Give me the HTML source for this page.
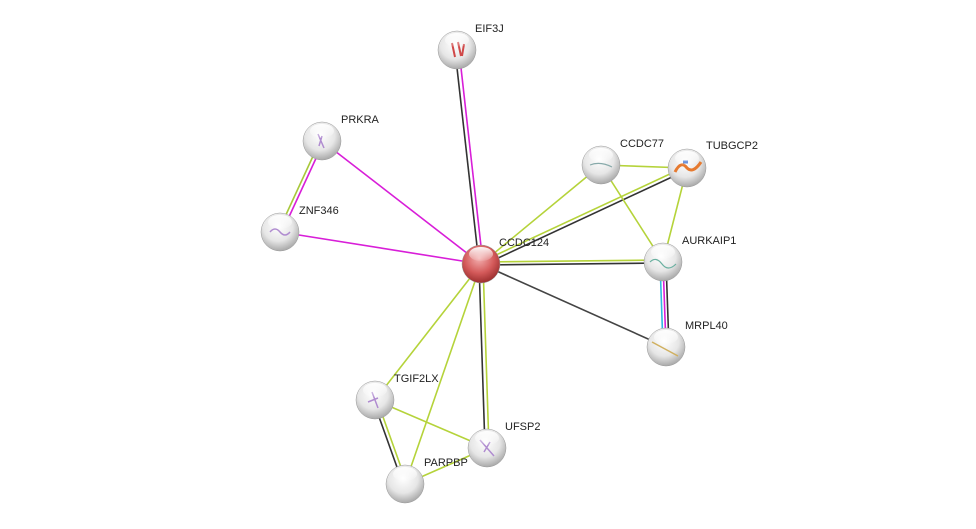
<!DOCTYPE html>
<html><head><meta charset="utf-8"><style>
html,body{margin:0;padding:0;background:#fff;width:976px;height:529px;overflow:hidden}
text{font-family:"Liberation Sans",sans-serif;font-size:11px;fill:#222}
</style></head><body>
<svg width="976" height="529" viewBox="0 0 976 529" xmlns="http://www.w3.org/2000/svg">
<defs>
<radialGradient id="g" cx="45%" cy="35%" r="65%">
<stop offset="0" stop-color="#ffffff"/><stop offset="0.6" stop-color="#e6e6e6"/><stop offset="1" stop-color="#a9a9a9"/>
</radialGradient>
<radialGradient id="r" cx="45%" cy="35%" r="65%">
<stop offset="0" stop-color="#f3b0b0"/><stop offset="0.6" stop-color="#d45a5a"/><stop offset="1" stop-color="#9c2f2f"/>
</radialGradient>
<linearGradient id="h" x1="0" y1="0" x2="0" y2="1">
<stop offset="0" stop-color="#fff" stop-opacity="0.95"/><stop offset="1" stop-color="#fff" stop-opacity="0.1"/>
</linearGradient>
</defs>
<g stroke-width="1.6" fill="none">
<line x1="479" y1="264" x2="455" y2="50" stroke="#333"/>
<line x1="483" y1="264" x2="459" y2="50" stroke="#d81ed8"/>
<line x1="481" y1="264" x2="322" y2="141" stroke="#d81ed8"/>
<line x1="481" y1="264" x2="280" y2="232" stroke="#d81ed8"/>
<line x1="320" y1="141" x2="278" y2="232" stroke="#a8c83a"/>
<line x1="324" y1="141" x2="282" y2="232" stroke="#d81ed8"/>
<line x1="481" y1="264" x2="601" y2="165" stroke="#b5d33a"/>
<line x1="481" y1="262" x2="687" y2="166" stroke="#b5d33a"/>
<line x1="481" y1="266" x2="687" y2="170" stroke="#333"/>
<line x1="481" y1="262" x2="663" y2="260" stroke="#b5d33a"/>
<line x1="481" y1="265" x2="663" y2="263" stroke="#333"/>
<line x1="481" y1="264" x2="666" y2="347" stroke="#444"/>
<line x1="481" y1="264" x2="375" y2="400" stroke="#b5d33a"/>
<line x1="481" y1="264" x2="405" y2="484" stroke="#b5d33a"/>
<line x1="479" y1="264" x2="485" y2="448" stroke="#333"/>
<line x1="483" y1="264" x2="489" y2="448" stroke="#b5d33a"/>
<line x1="601" y1="165" x2="687" y2="168" stroke="#b5d33a"/>
<line x1="601" y1="165" x2="663" y2="262" stroke="#b5d33a"/>
<line x1="687" y1="168" x2="663" y2="262" stroke="#b5d33a"/>
<line x1="660" y1="262" x2="663" y2="347" stroke="#30b8e0"/>
<line x1="663" y1="262" x2="666" y2="347" stroke="#d81ed8"/>
<line x1="666" y1="262" x2="669" y2="347" stroke="#333"/>
<line x1="375" y1="400" x2="487" y2="448" stroke="#b5d33a"/>
<line x1="373" y1="400" x2="403" y2="484" stroke="#333"/>
<line x1="377" y1="400" x2="407" y2="484" stroke="#b5d33a"/>
<line x1="405" y1="484" x2="487" y2="448" stroke="#b5d33a"/>
</g>
<g>
<circle cx="457" cy="50" r="19" fill="url(#g)" stroke="#999" stroke-width="0.5"/>
<circle cx="322" cy="141" r="19" fill="url(#g)" stroke="#999" stroke-width="0.5"/>
<circle cx="280" cy="232" r="19" fill="url(#g)" stroke="#999" stroke-width="0.5"/>
<circle cx="601" cy="165" r="19" fill="url(#g)" stroke="#999" stroke-width="0.5"/>
<circle cx="687" cy="168" r="19" fill="url(#g)" stroke="#999" stroke-width="0.5"/>
<circle cx="663" cy="262" r="19" fill="url(#g)" stroke="#999" stroke-width="0.5"/>
<circle cx="666" cy="347" r="19" fill="url(#g)" stroke="#999" stroke-width="0.5"/>
<circle cx="375" cy="400" r="19" fill="url(#g)" stroke="#999" stroke-width="0.5"/>
<circle cx="487" cy="448" r="19" fill="url(#g)" stroke="#999" stroke-width="0.5"/>
<circle cx="405" cy="484" r="19" fill="url(#g)" stroke="#999" stroke-width="0.5"/>
<circle cx="481" cy="264" r="19" fill="url(#r)" stroke="#999" stroke-width="0.5"/>
<path d="M452 43 l3 14 M458 42 l3 14 M464 44 l-2 12" stroke="#d04848" stroke-width="2"/>
<path d="M318 134 l6 14 M322 136 l-3 10" stroke="#b08cd0" stroke-width="1.5"/>
<path d="M270 232 q5 -6 10 0 t10 0" stroke="#b08cd0" stroke-width="1.5" fill="none"/>
<path d="M590 165 q10 -4 22 2" stroke="#8aa" stroke-width="1.2" fill="none"/>
<path d="M675 172 q6 -12 12 -4 q6 6 14 -6" stroke="#e67a30" stroke-width="3" fill="none"/>
<path d="M683 162 l5 0" stroke="#3a6fd0" stroke-width="3"/>
<path d="M650 262 q6 -6 12 2 t14 0" stroke="#6ab0a0" stroke-width="1.2" fill="none"/>
<path d="M652 342 l26 14" stroke="#d0b060" stroke-width="1.5"/>
<path d="M372 392 l6 16 M368 402 l10 -4" stroke="#b08cd0" stroke-width="1.5"/>
<path d="M480 440 l14 16 M484 452 l6 -10" stroke="#b08cd0" stroke-width="1.5"/>
<g fill="url(#h)">
<ellipse cx="457" cy="40" rx="12" ry="7"/><ellipse cx="322" cy="131" rx="12" ry="7"/>
<ellipse cx="280" cy="222" rx="12" ry="7"/><ellipse cx="601" cy="155" rx="12" ry="7"/>
<ellipse cx="687" cy="158" rx="12" ry="7"/><ellipse cx="663" cy="252" rx="12" ry="7"/>
<ellipse cx="666" cy="337" rx="12" ry="7"/><ellipse cx="375" cy="390" rx="12" ry="7"/>
<ellipse cx="487" cy="438" rx="12" ry="7"/><ellipse cx="405" cy="474" rx="12" ry="7"/>
<ellipse cx="481" cy="254" rx="12" ry="7"/>
</g>
</g>
<text x="475" y="32">EIF3J</text>
<text x="341" y="123">PRKRA</text>
<text x="299" y="214">ZNF346</text>
<text x="620" y="147">CCDC77</text>
<text x="706" y="149">TUBGCP2</text>
<text x="499" y="246">CCDC124</text>
<text x="682" y="244">AURKAIP1</text>
<text x="685" y="329">MRPL40</text>
<text x="394" y="382">TGIF2LX</text>
<text x="505" y="430">UFSP2</text>
<text x="424" y="466">PARPBP</text>
</svg>
</body></html>
